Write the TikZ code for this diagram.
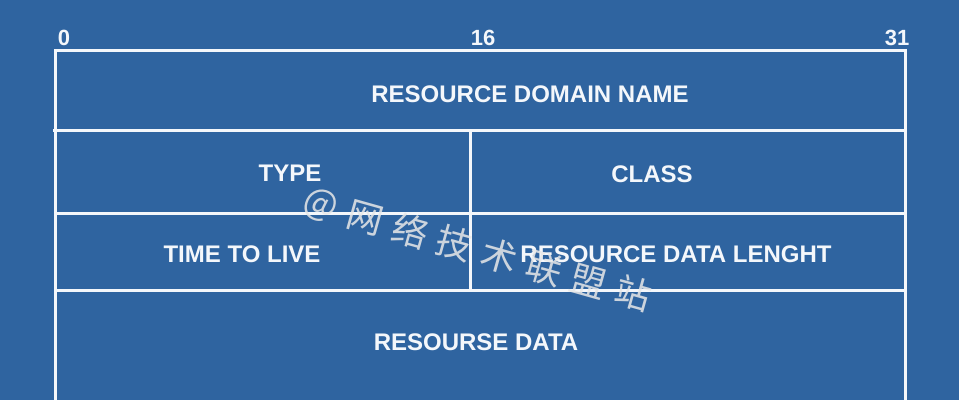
\documentclass[tikz,border=0pt]{standalone}
\usepackage{fontspec}
\setmainfont{Liberation Sans}
\newfontfamily\cjkfont{Noto Sans CJK SC}
\definecolor{bgblue}{HTML}{2F64A0}
\definecolor{rulewhite}{HTML}{F4F7FB}

\begin{document}
\begin{tikzpicture}[x=1pt,y=-1pt,line width=3pt]
  \tikzset{
    field/.style={text=rulewhite,font=\bfseries\fontsize{24}{24}\selectfont},
    bitno/.style={text=rulewhite,font=\bfseries\fontsize{22}{22}\selectfont},
    wmchar/.style={text=white!82!gray,opacity=0.85,rotate=-15.7,
      font=\cjkfont\fontsize{36}{36}\selectfont}
  }
  \fill[bgblue] (0,0) rectangle (959,400);
  \useasboundingbox (0,0) rectangle (959,400);

  \coordinate (TL) at (55,50);
  \coordinate (TR) at (905,50);
  \coordinate (BL) at (55,400);
  \coordinate (BR) at (905,400);
  \coordinate (A1) at (53,130);
  \coordinate (A2) at (905,130);
  \coordinate (B1) at (55,213);
  \coordinate (B2) at (905,213);
  \coordinate (C1) at (55,290);
  \coordinate (C2) at (905,290);
  \coordinate (MT) at (470,130);
  \coordinate (MB) at (470,292);

  % frame and rows
  \draw[rulewhite] (BL) -- (TL) -- (TR) -- (BR);
  \draw[rulewhite] (A1) -- (A2);
  \draw[rulewhite] (B1) -- (B2);
  \draw[rulewhite] (C1) -- (C2);
  \draw[rulewhite] (MT) -- (MB);

  % bit numbers
  \node[bitno] (b0) at (64,38) {0};
  \node[bitno] (b16) at (483,38) {16};
  \node[bitno] (b31) at (897,38) {31};

  % fields
  \node[field] (rdn) at (530,94) {RESOURCE DOMAIN NAME};
  \node[field] (type) at (290,173) {TYPE};
  \node[field] (class) at (652,174) {CLASS};
  \node[field] (ttl) at (242,254) {TIME TO LIVE};
  \node[field] (rdl) at (676,254) {RESOURCE DATA LENGHT};
  \node[field] (rd) at (476,342) {RESOURSE DATA};

  % watermark
  \foreach \ch [count=\i from 0] in {@,网,络,技,术,联,盟,站}
    \node[wmchar] (wm\i) at (321+44.6*\i,206+12.5*\i) {\ch};
\end{tikzpicture}
\end{document}
